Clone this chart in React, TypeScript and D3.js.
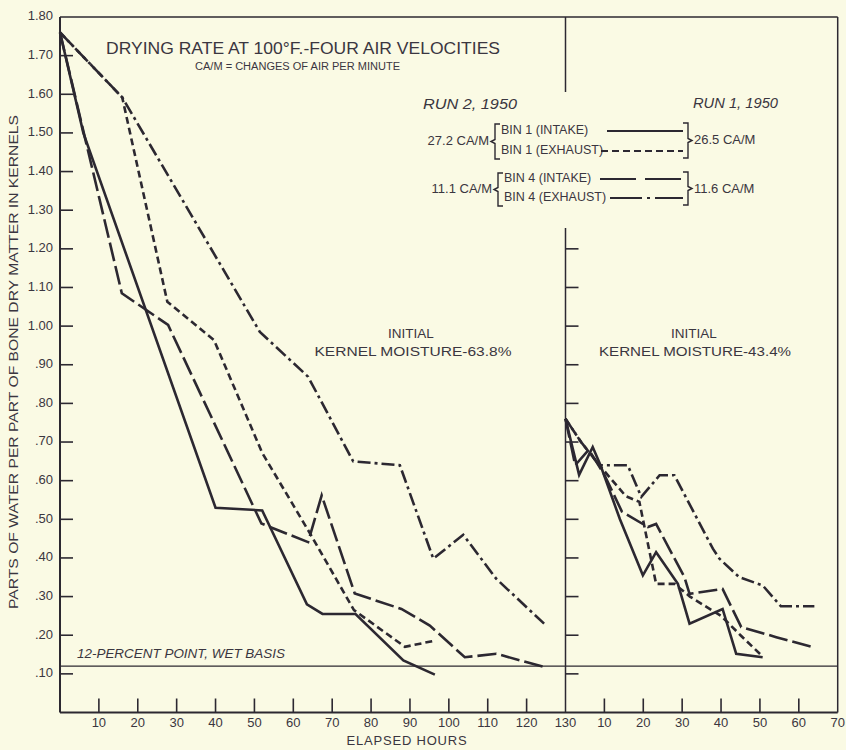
import React from 'react';
import * as d3 from 'd3';

// Run 2, 1950 (left panel) — [elapsed hours, parts water per part dry matter]
const run2Bin1Intake = [[0, 1.76], [6, 1.5], [40, 0.53], [52, 0.523], [63.5, 0.28], [67.5, 0.255], [76, 0.255], [88.3, 0.135], [96.4, 0.098]];
const run2Bin1Exhaust = [[0, 1.76], [16, 1.592], [27.6, 1.063], [39.6, 0.964], [52, 0.672], [64.5, 0.46], [75.6, 0.265], [88.7, 0.17], [96.4, 0.186]];
const run2Bin4Intake = [[0, 1.76], [15.9, 1.085], [27.8, 1.003], [51.8, 0.489], [63.8, 0.441], [67.3, 0.562], [75.8, 0.308], [87.8, 0.268], [95.1, 0.225], [104.1, 0.143], [112.2, 0.152], [125.1, 0.116]];
const run2Bin4Exhaust = [[0, 1.76], [16, 1.592], [51.4, 0.985], [63.8, 0.869], [75.4, 0.65], [87.4, 0.64], [96, 0.398], [103.7, 0.46], [112.2, 0.346], [124.5, 0.23]];

// Run 1, 1950 (right panel)
const run1Bin1Intake = [[0, 0.76], [3.5, 0.615], [7, 0.687], [9, 0.64], [14, 0.5], [19.9, 0.355], [23.3, 0.415], [28.9, 0.333], [31.9, 0.23], [40.4, 0.268], [43.9, 0.152], [50.7, 0.143]];
const run1Bin1Exhaust = [[0, 0.76], [4, 0.7], [8.7, 0.64], [15.5, 0.56], [19, 0.545], [23.3, 0.333], [28, 0.333], [32, 0.3], [40, 0.25], [45, 0.2], [50.7, 0.145]];
const run1Bin4Intake = [[0, 0.76], [2.5, 0.64], [6, 0.68], [10, 0.615], [14.5, 0.52], [21.2, 0.48], [23.3, 0.488], [30.6, 0.35], [31.9, 0.307], [40.4, 0.32], [45.2, 0.221], [54.2, 0.195], [63.6, 0.169]];
const run1Bin4Exhaust = [[0, 0.76], [4, 0.7], [8.7, 0.64], [16, 0.64], [19.5, 0.558], [24.2, 0.614], [28, 0.614], [37.9, 0.424], [39.6, 0.398], [44.7, 0.35], [50.7, 0.329], [55.4, 0.275], [64, 0.275]];

const yTicks = [0.1, 0.2, 0.3, 0.4, 0.5, 0.6, 0.7, 0.8, 0.9, 1.0, 1.1, 1.2, 1.3, 1.4, 1.5, 1.6, 1.7, 1.8];
const yTicksRight = [0.1, 0.2, 0.3, 0.4, 0.5, 0.6, 0.7, 0.8, 0.9, 1.0, 1.1, 1.2];
const xTicksLeft = [10, 20, 30, 40, 50, 60, 70, 80, 90, 100, 110, 120, 130];
const xTicksRight = [10, 20, 30, 40, 50, 60, 70];
const twelvePercent = 0.12;

const W = 846;
const H = 750;
const ink = '#2c2831';
const textInk = '#3a3640';
const bg = '#fafae4';
const font = '"Liberation Sans", "DejaVu Sans", sans-serif';

const dashSolid = undefined;
const dashShort = '7,4';
const dashLong = '19,5';
const dashDot = '13,4,3,4';

const y = d3.scaleLinear().domain([0, 1.8]).range([712.5, 17]);
const xL = d3.scaleLinear().domain([0, 130]).range([60, 565.5]);
const xR = d3.scaleLinear().domain([0, 70]).range([565.5, 837.7]);

const fmt = (v: number) => (v >= 1 ? v.toFixed(2) : v.toFixed(2).slice(1));

const Series = ({ pts, x, dash }: { pts: number[][]; x: d3.ScaleLinear<number, number>; dash?: string }) => {
  const line = d3.line<number[]>().x((d) => x(d[0])).y((d) => y(d[1]));
  return <path d={line(pts) || ''} fill="none" stroke={ink} strokeWidth={2.6} strokeDasharray={dash} strokeLinejoin="miter" />;
};

const Bracket = ({ x, y0, y1, dir }: { x: number; y0: number; y1: number; dir: number }) => {
  const m = (y0 + y1) / 2;
  const d = `M${x + 5 * dir},${y0} L${x},${y0} L${x},${m - 2} L${x - 4 * dir},${m} L${x},${m + 2} L${x},${y1} L${x + 5 * dir},${y1}`;
  return <path d={d} fill="none" stroke={ink} strokeWidth={1.4} />;
};

export default function App() {
  const bottom = y(0);
  const top = y(1.8);
  return (
    <svg width={W} height={H} style={{ position: 'absolute', left: 0, top: 0, background: bg }} fontFamily={font}>
      <rect x={0} y={0} width={W} height={H} fill={bg} />

      {/* frame */}
      <line x1={xL(0)} x2={xL(0)} y1={top} y2={bottom} stroke={ink} strokeWidth={2} />
      <line x1={xL(0)} x2={xR(70)} y1={bottom} y2={bottom} stroke={ink} strokeWidth={2} />
      <line x1={xL(0)} x2={xR(70)} y1={top} y2={top} stroke={ink} strokeWidth={1.5} />
      <line x1={xR(70)} x2={xR(70)} y1={top} y2={bottom} stroke={ink} strokeWidth={1.5} />
      <line x1={xR(0)} x2={xR(0)} y1={top} y2={92} stroke={ink} strokeWidth={1.5} />
      <line x1={xR(0)} x2={xR(0)} y1={228} y2={bottom} stroke={ink} strokeWidth={1.5} />

      {/* y ticks and labels */}
      {yTicks.map((t) => (
        <g key={'yl' + t}>
          {t < 1.8 && <line x1={xL(0)} x2={xL(0) + 13} y1={y(t)} y2={y(t)} stroke={ink} strokeWidth={1.6} />}
          <text x={53} y={y(t)} textAnchor="end" dominantBaseline="middle" fontSize={13} fill={textInk}>
            {fmt(t)}
          </text>
        </g>
      ))}
      {yTicksRight.map((t) => (
        <line key={'yr' + t} x1={xR(0)} x2={xR(0) + 13} y1={y(t)} y2={y(t)} stroke={ink} strokeWidth={1.6} />
      ))}

      {/* x ticks and labels */}
      {xTicksLeft.map((t) => (
        <g key={'xl' + t}>
          {t < 130 && <line x1={xL(t)} x2={xL(t)} y1={bottom} y2={bottom - 14} stroke={ink} strokeWidth={1.6} />}
          <text x={xL(t)} y={724} textAnchor="middle" dominantBaseline="middle" fontSize={13} fill={textInk}>
            {t}
          </text>
        </g>
      ))}
      {xTicksRight.map((t) => (
        <g key={'xr' + t}>
          {t < 70 && <line x1={xR(t)} x2={xR(t)} y1={bottom} y2={bottom - 14} stroke={ink} strokeWidth={1.6} />}
          <text x={xR(t)} y={724} textAnchor="middle" dominantBaseline="middle" fontSize={13} fill={textInk}>
            {t}
          </text>
        </g>
      ))}

      {/* axis titles */}
      <text x={407} y={742} textAnchor="middle" dominantBaseline="middle" fontSize={13} fill={textInk} letterSpacing={0.8}>
        ELAPSED HOURS
      </text>
      <text transform={`translate(15,${362}) rotate(-90)`} textAnchor="middle" dominantBaseline="middle" fontSize={13} fill={textInk} textLength={494} lengthAdjust="spacingAndGlyphs">
        PARTS OF WATER PER PART OF BONE DRY MATTER IN KERNELS
      </text>

      {/* 12 percent line */}
      <line x1={xL(0)} x2={xR(70)} y1={y(twelvePercent)} y2={y(twelvePercent)} stroke={ink} strokeWidth={1.4} />
      <text x={77} y={y(twelvePercent) - 8} fontSize={12} fontStyle="italic" fill={textInk} textLength={208} lengthAdjust="spacingAndGlyphs">
        12-PERCENT POINT, WET BASIS
      </text>

      {/* titles */}
      <text x={106} y={54} fontSize={17} fill={textInk} textLength={394} lengthAdjust="spacingAndGlyphs">
        DRYING RATE AT 100°F.-FOUR AIR VELOCITIES
      </text>
      <text x={195} y={70} fontSize={10} fill={textInk} textLength={205} lengthAdjust="spacingAndGlyphs">
        CA/M = CHANGES OF AIR PER MINUTE
      </text>

      {/* legend */}
      <text x={423} y={105} dominantBaseline="middle" fontSize={14} fontStyle="italic" fill={textInk} textLength={94} lengthAdjust="spacingAndGlyphs">
        RUN 2, 1950
      </text>
      <text x={693} y={104} dominantBaseline="middle" fontSize={14} fontStyle="italic" fill={textInk} textLength={85} lengthAdjust="spacingAndGlyphs">
        RUN 1, 1950
      </text>

      <text x={489} y={142} textAnchor="end" dominantBaseline="middle" fontSize={13} fill={textInk}>27.2 CA/M</text>
      <Bracket x={495} y0={124} y1={159} dir={1} />
      <text x={501} y={131} dominantBaseline="middle" fontSize={12.5} fill={textInk}>BIN 1 (INTAKE)</text>
      <text x={501} y={151} dominantBaseline="middle" fontSize={12.5} fill={textInk}>BIN 1 (EXHAUST)</text>
      <line x1={607} x2={683} y1={131} y2={131} stroke={ink} strokeWidth={2.2} />
      <line x1={601} x2={683} y1={151} y2={151} stroke={ink} strokeWidth={2.2} strokeDasharray={dashShort} />
      <Bracket x={688} y0={123} y1={158} dir={-1} />
      <text x={694} y={141} dominantBaseline="middle" fontSize={13} fill={textInk}>26.5 CA/M</text>

      <text x={492} y={190} textAnchor="end" dominantBaseline="middle" fontSize={13} fill={textInk}>11.1 CA/M</text>
      <Bracket x={498} y0={173} y1={206} dir={1} />
      <text x={504} y={179} dominantBaseline="middle" fontSize={12.5} fill={textInk}>BIN 4 (INTAKE)</text>
      <text x={504} y={198} dominantBaseline="middle" fontSize={12.5} fill={textInk}>BIN 4 (EXHAUST)</text>
      <line x1={600} x2={683} y1={179} y2={179} stroke={ink} strokeWidth={2.2} strokeDasharray="36,9" />
      <line x1={610} x2={683} y1={198} y2={198} stroke={ink} strokeWidth={2.2} strokeDasharray="32,5,3,5" />
      <Bracket x={688} y0={172} y1={205} dir={-1} />
      <text x={694} y={190} dominantBaseline="middle" fontSize={13} fill={textInk}>11.6 CA/M</text>

      {/* annotations */}
      <text x={411} y={334} textAnchor="middle" dominantBaseline="middle" fontSize={13.5} fill={textInk}>INITIAL</text>
      <text x={413} y={352} textAnchor="middle" dominantBaseline="middle" fontSize={13.5} fill={textInk} textLength={197} lengthAdjust="spacingAndGlyphs">
        KERNEL MOISTURE-63.8%
      </text>
      <text x={694} y={334} textAnchor="middle" dominantBaseline="middle" fontSize={13.5} fill={textInk}>INITIAL</text>
      <text x={695} y={352} textAnchor="middle" dominantBaseline="middle" fontSize={13.5} fill={textInk} textLength={192} lengthAdjust="spacingAndGlyphs">
        KERNEL MOISTURE-43.4%
      </text>

      {/* data */}
      <Series pts={run2Bin1Intake} x={xL} dash={dashSolid} />
      <Series pts={run2Bin1Exhaust} x={xL} dash={dashShort} />
      <Series pts={run2Bin4Intake} x={xL} dash={dashLong} />
      <Series pts={run2Bin4Exhaust} x={xL} dash={dashDot} />
      <Series pts={run1Bin1Intake} x={xR} dash={dashSolid} />
      <Series pts={run1Bin1Exhaust} x={xR} dash={dashShort} />
      <Series pts={run1Bin4Intake} x={xR} dash={dashLong} />
      <Series pts={run1Bin4Exhaust} x={xR} dash={dashDot} />
    </svg>
  );
}
